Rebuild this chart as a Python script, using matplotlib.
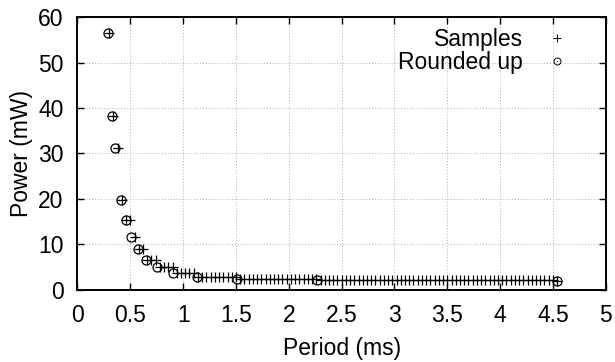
import matplotlib
matplotlib.use("Agg")
import matplotlib.pyplot as plt
from matplotlib.lines import Line2D
from matplotlib.legend_handler import HandlerTuple

plt.rcParams["font.family"] = ["Liberation Sans", "DejaVu Sans"]
FS = 16.5

# Measured samples: period (ms) and power (mW)
sample_period = [
    0.30, 0.34, 0.38, 0.42, 0.46, 0.50, 0.54, 0.58, 0.62, 0.66,
    0.70, 0.74, 0.78, 0.82, 0.86, 0.90, 0.94, 0.98, 1.02, 1.06,
    1.10, 1.14, 1.18, 1.22, 1.26, 1.30, 1.34, 1.38, 1.42, 1.46,
    1.50, 1.54, 1.58, 1.62, 1.66, 1.70, 1.74, 1.78, 1.82, 1.86,
    1.90, 1.94, 1.98, 2.02, 2.06, 2.10, 2.14, 2.18, 2.22, 2.26,
    2.30, 2.34, 2.38, 2.42, 2.46, 2.50, 2.54, 2.58, 2.62, 2.66,
    2.70, 2.74, 2.78, 2.82, 2.86, 2.90, 2.94, 2.98, 3.02, 3.06,
    3.10, 3.14, 3.18, 3.22, 3.26, 3.30, 3.34, 3.38, 3.42, 3.46,
    3.50, 3.54, 3.58, 3.62, 3.66, 3.70, 3.74, 3.78, 3.82, 3.86,
    3.90, 3.94, 3.98, 4.02, 4.06, 4.10, 4.14, 4.18, 4.22, 4.26,
    4.30, 4.34, 4.38, 4.42, 4.46, 4.50, 4.54,
]
sample_power = [
    56.4, 38.3, 31.1, 19.7, 15.3, 15.3, 11.6, 8.9, 8.9, 6.5,
    6.5, 6.5, 5.0, 5.0, 5.0, 5.0, 3.7, 3.7, 3.7, 3.7,
    3.7, 2.8, 2.8, 2.8, 2.8, 2.8, 2.8, 2.8, 2.8, 2.8,
    2.8, 2.4, 2.4, 2.4, 2.4, 2.4, 2.4, 2.4, 2.4, 2.4,
    2.4, 2.4, 2.4, 2.4, 2.4, 2.4, 2.4, 2.4, 2.4, 2.4,
    2.2, 2.2, 2.2, 2.2, 2.2, 2.2, 2.2, 2.2, 2.2, 2.2,
    2.2, 2.2, 2.2, 2.2, 2.2, 2.2, 2.2, 2.2, 2.2, 2.2,
    2.2, 2.2, 2.2, 2.2, 2.2, 2.2, 2.2, 2.2, 2.2, 2.2,
    2.2, 2.2, 2.2, 2.2, 2.2, 2.2, 2.2, 2.2, 2.2, 2.2,
    2.2, 2.2, 2.2, 2.2, 2.2, 2.2, 2.2, 2.2, 2.2, 2.2,
    2.2, 2.2, 2.2, 2.2, 2.2, 2.2, 2.05,
]

# Periods rounded up to the achievable values
rounded_period = [0.291, 0.33, 0.358, 0.415, 0.456, 0.504, 0.568,
                  0.651, 0.757, 0.908, 1.135, 1.513, 2.27, 4.54]
rounded_power = [56.4, 38.3, 31.1, 19.7, 15.3, 11.6, 8.9,
                 6.5, 5.0, 3.7, 2.8, 2.4, 2.2, 2.05]

x_ticks = [0, 0.5, 1, 1.5, 2, 2.5, 3, 3.5, 4, 4.5, 5]
x_tick_labels = ["0", "0.5", "1", "1.5", "2", "2.5", "3", "3.5", "4", "4.5", "5"]
y_ticks = [0, 10, 20, 30, 40, 50, 60]

fig = plt.figure(figsize=(6.15, 3.62), dpi=100)
ax = fig.add_axes([0.126, 0.199, 0.859, 0.754])

ax.plot(sample_period, sample_power, linestyle="none", marker="+",
        markersize=6.5, markeredgewidth=0.9, color="black", zorder=3)
ax.plot(rounded_period, rounded_power, linestyle="none", marker="o",
        markersize=6.5, markerfacecolor="none", markeredgewidth=0.9,
        markeredgecolor="black", zorder=3)

ax.set_xlim(0, 5)
ax.set_ylim(0, 60)
ax.set_xticks(x_ticks)
ax.set_xticklabels(x_tick_labels)
ax.set_yticks(y_ticks)

ax.grid(True, color="#b0b0b0", linestyle=(0, (1, 2)), linewidth=0.7)
ax.set_axisbelow(True)
for spine in ax.spines.values():
    spine.set_linewidth(1.4)
ax.tick_params(direction="in", length=5, width=1.0, top=True, right=True,
               labelsize=FS, pad=10)

ax.set_xlabel("Period (ms)", fontsize=FS, labelpad=7.5)
ax.set_ylabel("Power (mW)", fontsize=FS, labelpad=3.5)

# Key: one entry per legend so the text stays right-aligned
h_samples = Line2D([], [], linestyle="none", marker="+", markersize=5.5,
                   markeredgewidth=0.7, color="black")
h_ring = Line2D([], [], linestyle="none", marker="o", markersize=5,
                markerfacecolor="none", markeredgewidth=0.7,
                markeredgecolor="black")
h_dot = Line2D([], [], linestyle="none", marker="o", markersize=0.9,
               markeredgewidth=0, color="black")

leg_kw = dict(loc="upper right", frameon=False, markerfirst=False,
              handlelength=1.2, handletextpad=0.9, borderaxespad=0,
              borderpad=0, fontsize=FS)
leg1 = ax.legend([h_samples], ["Samples"], bbox_to_anchor=(0.934, 0.96),
                 **leg_kw)
ax.add_artist(leg1)
ax.legend([(h_ring, h_dot)], ["Rounded up"], bbox_to_anchor=(0.934, 0.875),
          handler_map={tuple: HandlerTuple(ndivide=1, pad=0)}, **leg_kw)

fig.savefig("out.png", dpi=100)
